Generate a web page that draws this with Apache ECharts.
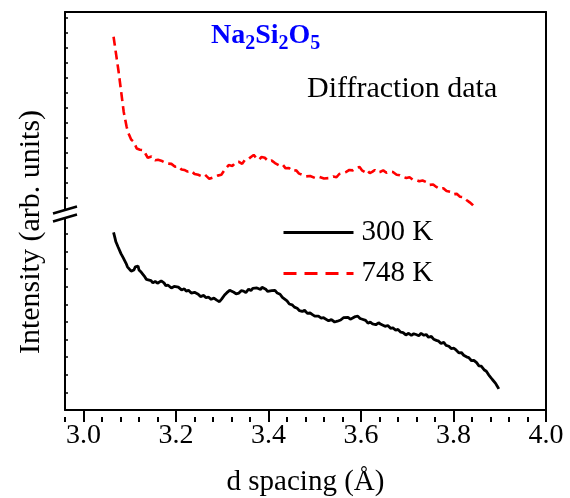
<!DOCTYPE html>
<html><head><meta charset="utf-8">
<script src="https://cdn.jsdelivr.net/npm/echarts@6/dist/echarts.min.js"></script>
<style>html,body{margin:0;padding:0;background:#fff}#c{width:570px;height:498px}</style>
</head><body><div id="c"></div>
<script>
const seriesNames = ['300 K', '748 K'];
// 300 K: d spacing (Å) and intensity (arb. units)
const d300 = [3.065,3.068,3.070,3.075,3.081,3.086,3.092,3.095,3.098,3.103,3.109,3.112,3.115,3.118,3.120,3.125,3.131,3.136,3.140,3.146,3.150,3.155,3.160,3.163,3.168,3.174,3.178,3.183,3.190,3.196,3.200,3.205,3.212,3.218,3.222,3.227,3.233,3.240,3.248,3.253,3.260,3.265,3.270,3.276,3.282,3.288,3.294,3.299,3.305,3.310,3.316,3.320,3.325,3.330,3.336,3.341,3.346,3.351,3.357,3.362,3.366,3.370,3.375,3.379,3.383,3.386,3.390,3.394,3.398,3.401,3.407,3.414,3.419,3.425,3.430,3.434,3.440,3.445,3.451,3.456,3.462,3.467,3.473,3.478,3.484,3.490,3.495,3.500,3.508,3.514,3.519,3.523,3.530,3.536,3.543,3.549,3.556,3.562,3.566,3.572,3.577,3.582,3.588,3.593,3.598,3.603,3.610,3.615,3.620,3.625,3.632,3.638,3.643,3.647,3.652,3.658,3.664,3.669,3.675,3.680,3.686,3.691,3.697,3.703,3.709,3.714,3.719,3.725,3.730,3.736,3.741,3.746,3.752,3.757,3.763,3.768,3.773,3.779,3.784,3.790,3.795,3.801,3.806,3.812,3.817,3.822,3.828,3.833,3.839,3.844,3.850,3.855,3.860,3.866,3.871,3.876,3.880,3.884,3.887,3.891,3.894,3.898];
const i300 = [45.4,44.0,43.0,41.6,40.0,38.9,37.5,36.6,36.3,35.5,35.8,36.6,36.3,36.8,35.8,35.2,34.3,33.4,33.8,33.1,32.5,32.9,32.4,32.6,33.0,32.5,31.8,31.9,31.2,31.6,31.1,31.4,30.7,31.0,30.4,30.6,29.9,30.1,29.6,29.0,29.3,28.7,28.9,28.3,28.6,28.1,27.7,28.4,29.4,30.0,30.6,30.2,30.1,29.7,29.9,30.5,30.4,30.0,30.9,30.5,31.1,30.6,31.2,31.4,30.8,31.4,31.0,30.9,30.3,30.1,30.5,30.6,29.9,29.6,28.8,28.4,27.9,27.1,26.9,26.3,26.0,25.4,25.2,25.5,24.7,24.8,24.4,24.0,24.0,23.5,23.6,23.2,22.8,23.1,22.5,22.7,23.0,23.6,23.3,23.7,23.2,23.5,23.9,24.0,23.4,23.2,22.9,22.2,22.5,22.0,21.8,22.3,21.9,22.0,21.4,21.6,20.9,21.0,20.4,20.6,19.9,19.8,19.2,19.6,19.1,19.5,19.3,19.0,19.6,19.1,19.3,18.6,18.8,18.1,17.8,17.6,17.0,17.3,16.5,16.3,15.7,15.8,15.3,14.6,14.7,14.0,13.6,13.4,12.6,12.7,12.1,11.3,11.2,10.3,9.9,9.0,8.6,7.8,7.4,6.8,6.2,5.4];
// 748 K
const d748 = [3.065,3.076,3.087,3.093,3.096,3.103,3.109,3.115,3.122,3.129,3.134,3.139,3.147,3.155,3.161,3.170,3.180,3.190,3.198,3.205,3.212,3.218,3.225,3.233,3.240,3.248,3.256,3.263,3.272,3.280,3.290,3.298,3.305,3.314,3.322,3.330,3.336,3.343,3.349,3.356,3.362,3.368,3.374,3.379,3.385,3.392,3.400,3.407,3.414,3.422,3.430,3.437,3.444,3.452,3.460,3.466,3.473,3.481,3.490,3.501,3.510,3.520,3.532,3.540,3.547,3.553,3.560,3.568,3.575,3.582,3.590,3.597,3.602,3.608,3.613,3.619,3.625,3.630,3.636,3.641,3.648,3.655,3.662,3.669,3.677,3.684,3.691,3.698,3.705,3.712,3.719,3.726,3.733,3.741,3.748,3.756,3.763,3.770,3.778,3.785,3.793,3.800,3.807,3.814,3.821,3.828,3.835,3.841,3.847];
const i748 = [93.9,85.2,75.3,71.8,70.4,68.5,67.9,66.3,66.0,65.9,65.0,64.0,64.3,63.4,63.5,63.2,62.6,62.5,61.8,61.9,61.1,61.0,60.6,60.8,60.0,59.8,59.4,59.8,58.8,59.1,59.6,59.8,61.0,62.2,62.0,63.0,63.0,62.5,63.5,63.6,64.2,64.7,63.9,63.5,64.2,64.0,63.1,63.3,62.7,62.2,62.4,61.4,61.5,60.7,60.9,60.1,59.8,59.4,59.5,59.0,59.3,58.9,59.0,59.4,59.2,60.0,60.2,60.5,61.0,60.9,61.5,61.7,60.9,60.5,61.0,60.2,60.6,61.0,60.4,60.5,60.9,60.3,60.6,60.5,59.8,59.7,59.3,59.0,59.2,58.6,58.5,58.2,58.4,58.0,57.3,57.4,56.8,56.3,56.5,55.8,55.6,55.0,55.1,54.4,54.3,53.6,53.0,52.4,51.6];
const xTickValues = [3.0,3.2,3.4,3.6,3.8,4.0];
const xMin = 2.96, xMax = 4.0, xMinorStep = 0.04;
const yBreak = 50.37, yTop = 100, yBottom = 0;

const FONT = '"Liberation Serif","Times New Roman",serif';
const blackLine = {color:'#000', width:2};
const zip = (a,b) => a.map((v,i)=>[v,b[i]]);

const gridLeft = 65, gridRight = 24;
const chart = echarts.init(document.getElementById('c'), null, {renderer:'canvas'});
chart.setOption({
  animation:false,
  backgroundColor:'#fff',
  title:{
    text:'{n|Na}{s|2}{n|Si}{s|2}{n|O}{s|5}',
    left:206, top:17,
    textStyle:{
      rich:{
        n:{fontFamily:FONT,fontWeight:'bold',fontSize:28,color:'#0000ff',lineHeight:32,verticalAlign:'top'},
        s:{fontFamily:FONT,fontWeight:'bold',fontSize:20,color:'#0000ff',lineHeight:32,verticalAlign:'top',padding:[12,0,0,0]}
      }
    }
  },
  legend:{
    data:[{name:'300 K',lineStyle:{width:3}},{name:'748 K',lineStyle:{type:[13,8],width:3}}],
    orient:'vertical', left:277, top:213,
    itemWidth:70, itemHeight:26, itemGap:12,
    itemStyle:{opacity:0},
    textStyle:{fontFamily:FONT,fontSize:29,color:'#000',padding:[0,0,0,3]}
  },
  grid:[
    {left:gridLeft,right:gridRight,top:12,height:201},
    {left:gridLeft,right:gridRight,top:213,bottom:81},
    {left:gridLeft,right:gridRight,top:213,bottom:81}
  ],
  xAxis:[
    {gridIndex:0,type:'value',position:'top',min:xMin,max:xMax,
     axisLine:{show:true,lineStyle:blackLine},axisTick:{show:false},axisLabel:{show:false},splitLine:{show:false}},
    {gridIndex:1,type:'value',position:'bottom',min:xMin,max:xMax,
     axisLine:{show:true,onZero:false,lineStyle:blackLine},
     axisTick:{show:true,inside:false,length:8,customValues:xTickValues,lineStyle:{color:'#000',width:2}},
     axisLabel:{show:true,customValues:xTickValues,margin:12,fontFamily:FONT,fontSize:28,color:'#000',formatter:v=>v.toFixed(1)},
     splitLine:{show:false},
     name:'d spacing (Å)',nameLocation:'middle',nameGap:58,
     nameTextStyle:{fontFamily:FONT,fontSize:29,color:'#000'}},
    {gridIndex:2,type:'value',position:'bottom',min:xMin,max:xMax,interval:xMinorStep,
     axisLine:{show:false},axisTick:{show:true,inside:false,length:5,lineStyle:{color:'#000',width:2}},
     axisLabel:{show:false},splitLine:{show:false}}
  ],
  yAxis:[
    {gridIndex:0,type:'value',position:'left',min:yBreak,max:yTop,interval:3.7,
     axisLine:{show:true,onZero:false,lineStyle:blackLine},axisTick:{show:true,inside:true,length:3,lineStyle:{color:'#000',width:1.5}},
     axisLabel:{show:false},splitLine:{show:false}},
    {gridIndex:0,type:'value',position:'right',min:yBreak,max:yTop,
     axisLine:{show:true,onZero:false,lineStyle:blackLine},axisTick:{show:false},axisLabel:{show:false},splitLine:{show:false}},
    {gridIndex:1,type:'value',position:'left',min:yBottom,max:yBreak,interval:4.5,
     axisLine:{show:true,onZero:false,lineStyle:blackLine},axisTick:{show:true,inside:true,length:3,lineStyle:{color:'#000',width:1.5}},
     axisLabel:{show:false},splitLine:{show:false}},
    {gridIndex:1,type:'value',position:'right',min:yBottom,max:yBreak,
     axisLine:{show:true,onZero:false,lineStyle:blackLine},axisTick:{show:false},axisLabel:{show:false},splitLine:{show:false}},
    {gridIndex:2,type:'value',min:yBottom,max:yBreak,show:false}
  ],
  series:[
    {name:seriesNames[0],type:'line',xAxisIndex:1,yAxisIndex:2,data:zip(d300,i300),
     showSymbol:false,symbol:'none',lineStyle:{color:'#000',width:2.8},itemStyle:{color:'#000'}},
    {name:seriesNames[1],type:'line',xAxisIndex:0,yAxisIndex:0,data:zip(d748,i748),
     showSymbol:false,symbol:'none',lineStyle:{color:'#ff0000',width:2.6,type:[9,5]},itemStyle:{color:'#ff0000'}}
  ],
  graphic:[
    {type:'text',left:307,top:74,z:100,style:{text:'Diffraction data',font:'30px '+FONT,fill:'#000'}},
    {type:'text',z:100,x:31,y:232,rotation:Math.PI/2,
     style:{text:'Intensity (arb. units)',font:'30px '+FONT,fill:'#000',align:'center',verticalAlign:'middle'}},
    {type:'polygon',z:100,shape:{points:[[56,212.5],[75,207],[75,214.5],[56,220]]},style:{fill:'#fff'}},
    {type:'line',z:101,shape:{x1:53,y1:213.5,x2:77,y2:206.5},style:{stroke:'#000',lineWidth:2.5}},
    {type:'line',z:101,shape:{x1:53,y1:221.5,x2:77,y2:214.5},style:{stroke:'#000',lineWidth:2.5}}
  ]
});
</script>
</body></html>
